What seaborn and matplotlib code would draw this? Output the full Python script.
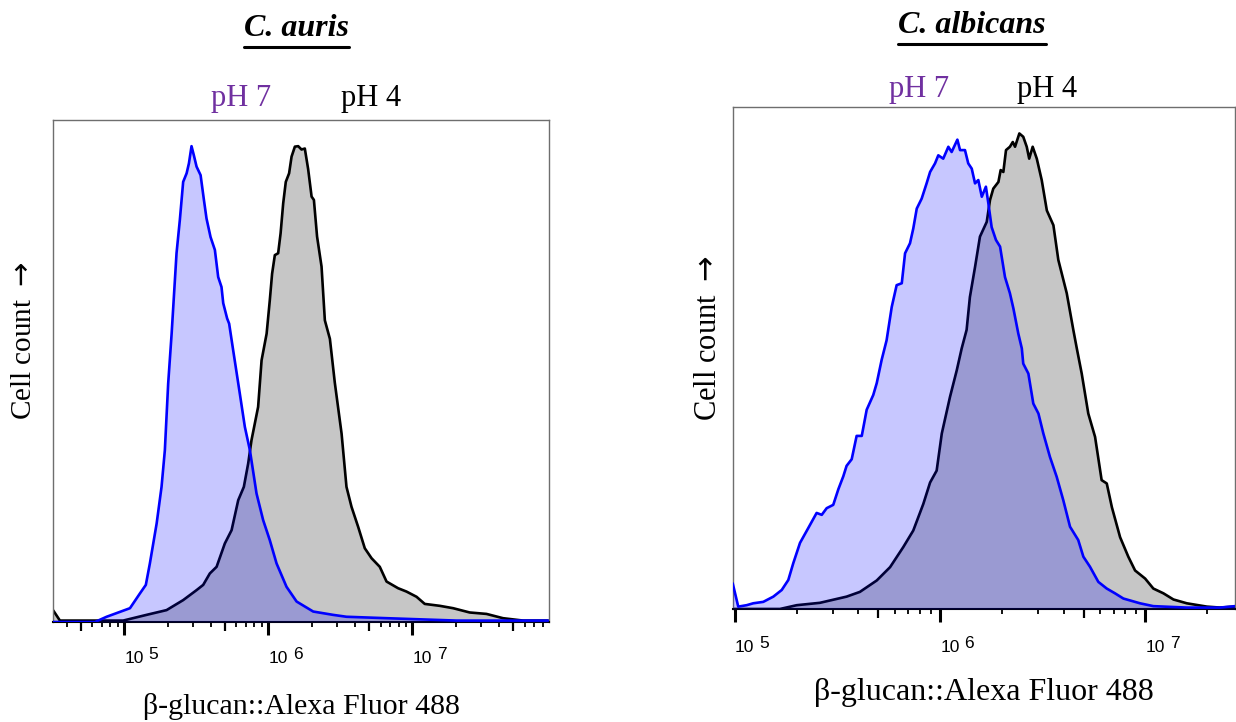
import math
import matplotlib
matplotlib.use("Agg")
import matplotlib.pyplot as plt
import seaborn as sns
import numpy as np
from matplotlib.ticker import FixedLocator, NullFormatter
from matplotlib.lines import Line2D

# ---- Fluorescence histograms (x: log10 intensity, y: % of mode) ----
auris_ph7_log = [4.506, 4.797, 4.878, 5.040, 5.109, 5.150, 5.178, 5.225, 5.259, 5.282,
                 5.305, 5.329, 5.363, 5.386, 5.409, 5.433, 5.449, 5.467, 5.483, 5.502,
                 5.530, 5.553, 5.571, 5.599, 5.629, 5.652, 5.675, 5.687, 5.714, 5.728,
                 5.756, 5.802, 5.837, 5.872, 5.918, 5.964, 6.010, 6.057, 6.126, 6.196,
                 6.311, 6.449, 6.542, 6.820, 7.305, 7.940]
auris_ph7_pct = [0, 0, 1.1, 2.9, 6.0, 7.8, 12.3, 20.7, 28.4, 36.1,
                 50.1, 60.6, 77.5, 84.5, 92.5, 94.3, 96.4, 100, 98.1, 95.7,
                 93.9, 88.7, 84.8, 80.9, 78.2, 72.5, 70.4, 67.0, 63.8, 62.7,
                 57.1, 48.0, 41.0, 36.1, 27.0, 21.4, 17.2, 12.3, 7.4, 4.3,
                 2.2, 1.5, 1.1, 0.8, 0.3, 0.3]

auris_ph4_log = [4.506, 4.554, 4.993, 5.155, 5.294, 5.409, 5.502, 5.548, 5.594, 5.641,
                 5.698, 5.745, 5.791, 5.830, 5.860, 5.883, 5.929, 5.953, 5.988, 6.010,
                 6.026, 6.045, 6.068, 6.085, 6.103, 6.121, 6.144, 6.161, 6.184, 6.207,
                 6.230, 6.253, 6.276, 6.300, 6.316, 6.338, 6.369, 6.392, 6.427, 6.461,
                 6.508, 6.542, 6.577, 6.623, 6.669, 6.716, 6.773, 6.820, 6.900, 6.958,
                 7.028, 7.085, 7.189, 7.282, 7.397, 7.513, 7.628, 7.767, 7.940]
auris_ph4_pct = [2.5, 0.3, 0.3, 1.5, 2.5, 4.6, 6.7, 7.8, 10.2, 11.6,
                 16.5, 19.3, 25.6, 28.4, 33.3, 38.2, 45.2, 55.0, 60.6, 67.6,
                 73.2, 77.1, 77.5, 81.7, 88.0, 92.5, 94.3, 97.8, 99.9, 100,
                 99.3, 99.5, 95.2, 89.4, 88.7, 81.0, 74.7, 63.4, 59.5, 50.3,
                 39.6, 28.4, 24.2, 20.0, 15.5, 13.4, 11.6, 8.5, 7.1, 6.4,
                 5.3, 3.8, 3.4, 2.9, 2.0, 1.7, 0.8, 0.3, 0.3]

albicans_ph7_log = [4.989, 5.016, 5.057, 5.089, 5.138, 5.187, 5.228, 5.260, 5.284, 5.317,
                    5.357, 5.398, 5.423, 5.447, 5.479, 5.504, 5.528, 5.544, 5.569, 5.593,
                    5.618, 5.642, 5.674, 5.691, 5.715, 5.739, 5.764, 5.788, 5.813, 5.829,
                    5.853, 5.869, 5.886, 5.910, 5.934, 5.951, 5.975, 5.991, 6.015, 6.040,
                    6.056, 6.084, 6.097, 6.121, 6.137, 6.154, 6.170, 6.186, 6.203, 6.223,
                    6.235, 6.251, 6.272, 6.292, 6.316, 6.340, 6.357, 6.381, 6.398, 6.405,
                    6.430, 6.454, 6.479, 6.503, 6.535, 6.568, 6.600, 6.633, 6.673, 6.698,
                    6.730, 6.771, 6.812, 6.852, 6.893, 6.974, 7.039, 7.202, 7.364, 7.437]
albicans_ph7_pct = [5.4, 0.5, 0.8, 1.2, 1.5, 2.6, 4.0, 6.1, 9.6, 13.9,
                    17.0, 20.2, 19.8, 21.2, 21.9, 25.2, 27.9, 30.1, 31.5, 36.4,
                    36.4, 41.9, 45.0, 47.5, 52.4, 56.5, 63.5, 68.1, 68.5, 74.8,
                    76.9, 80.0, 84.2, 86.3, 89.5, 91.9, 93.7, 95.4, 94.7, 97.2,
                    96.1, 98.7, 96.5, 96.5, 93.7, 92.6, 89.5, 90.2, 86.7, 88.8,
                    85.3, 80.3, 77.6, 76.2, 69.8, 66.4, 63.2, 57.9, 54.8, 51.6,
                    49.5, 43.2, 41.1, 36.9, 32.0, 27.8, 22.9, 17.3, 14.5, 11.0,
                    8.9, 5.7, 4.3, 3.3, 2.2, 1.2, 0.6, 0.3, 0.3, 0.6]

albicans_ph4_log = [4.989, 5.219, 5.301, 5.414, 5.544, 5.609, 5.691, 5.756, 5.820, 5.869,
                    5.918, 5.951, 5.983, 6.008, 6.048, 6.081, 6.105, 6.129, 6.145, 6.170,
                    6.194, 6.227, 6.243, 6.259, 6.284, 6.295, 6.308, 6.321, 6.340, 6.354,
                    6.365, 6.386, 6.405, 6.422, 6.434, 6.451, 6.471, 6.495, 6.520, 6.552,
                    6.576, 6.617, 6.649, 6.666, 6.690, 6.722, 6.755, 6.787, 6.812, 6.837,
                    6.877, 6.917, 6.950, 6.999, 7.039, 7.088, 7.137, 7.202, 7.300, 7.364,
                    7.437]
albicans_ph4_pct = [0, 0, 0.8, 1.3, 2.6, 3.6, 6.0, 8.8, 13.0, 16.5,
                    22.1, 26.6, 29.1, 36.9, 44.6, 50.2, 54.8, 58.7, 65.6, 71.9,
                    78.3, 81.4, 86.0, 88.4, 89.8, 92.3, 91.9, 96.5, 97.2, 98.2,
                    97.2, 100, 99.3, 97.2, 94.7, 97.2, 94.7, 90.2, 83.8, 80.7,
                    73.4, 66.4, 58.7, 54.8, 49.5, 41.1, 36.2, 27.1, 26.4, 21.4,
                    15.1, 11.0, 8.1, 6.4, 4.3, 3.3, 2.0, 1.2, 0.5, 0.3,
                    0.5]

titles = ["C. auris", "C. albicans"]
condition_labels = ["pH 7", "pH 4"]
x_label = "β-glucan::Alexa Fluor 488"
y_label = "Cell count $\\rightarrow$"

# ---- style ----
sns.set_style("white")
SERIF = ["Liberation Serif", "DejaVu Serif"]
SANS = ["Liberation Sans", "DejaVu Sans"]
plt.rcParams["font.family"] = SERIF
plt.rcParams["text.color"] = "black"
plt.rcParams["axes.labelcolor"] = "black"
plt.rcParams["xtick.color"] = "black"
plt.rcParams["mathtext.fontset"] = "dejavusans"

PH7_LINE = "#0000FF"
PH7_FILL = (0.0, 0.0, 1.0, 0.22)
PH4_LINE = "#000000"
PH4_FILL = "#C6C6C6"
PURPLE = "#7030A0"
FRAME = "#6E6E6E"

W, H = 1236, 722
fig = plt.figure(figsize=(W / 100, H / 100), dpi=100)


def px_rect(x0, y_top, x1, y_bot):
    return [x0 / W, 1 - y_bot / H, (x1 - x0) / W, (y_bot - y_top) / H]


panels = [
    dict(title=titles[0], x7=auris_ph7_log, y7=auris_ph7_pct,
         x4=auris_ph4_log, y4=auris_ph4_pct,
         rect=px_rect(53, 120, 549, 622), xlim=(4.506, 7.947), pad=11.5,
         title_xy=(296, 36), ph_y=106, ph_x=(241.5, 371),
         xlab_y=-0.168, xlab_size=21.5, ylab_xy=(-0.058, 0.56), lab_size=21),
    dict(title=titles[1], x7=albicans_ph7_log, y7=albicans_ph7_pct,
         x4=albicans_ph4_log, y4=albicans_ph4_pct,
         rect=px_rect(732.7, 107.3, 1235, 609), xlim=(4.989, 7.437), pad=13.0,
         title_xy=(972, 33), ph_y=97, ph_x=(919, 1047.5),
         xlab_y=-0.166, xlab_size=23, ylab_xy=(-0.049, 0.54), lab_size=22),
]

MAJ_LEN = 9.4
title_artists = []
for p in panels:
    ax = fig.add_axes(p["rect"])
    x7 = np.power(10.0, p["x7"])
    x4 = np.power(10.0, p["x4"])

    # pH 4: grey filled histogram with black outline
    ax.fill_between(x4, p["y4"], 0, color=PH4_FILL, lw=0, zorder=1)
    sns.lineplot(x=x4, y=p["y4"], ax=ax, color=PH4_LINE, lw=1.9, zorder=2)
    # pH 7: translucent blue overlay with blue outline
    ax.fill_between(x7, p["y7"], 0, color=PH7_FILL, lw=0, zorder=3)
    sns.lineplot(x=x7, y=p["y7"], ax=ax, color=PH7_LINE, lw=1.9, zorder=4)

    lo, hi = p["xlim"]
    ax.set_xscale("log")
    ax.set_xlim(10 ** lo, 10 ** hi)
    ax.set_ylim(0, 105.5)
    ax.set_yticks([])

    kmin, kmax = math.floor(lo), math.ceil(hi)
    majors = [10.0 ** k for k in range(kmin, kmax + 1) if lo <= k <= hi + 1e-9]
    minors = [m * 10.0 ** k for k in range(kmin, kmax) for m in (2, 3, 4, 6, 7, 8, 9)
              if lo <= math.log10(m * 10.0 ** k) <= hi]
    mids = [5 * 10.0 ** k for k in range(kmin, kmax) if lo <= math.log10(5 * 10.0 ** k) <= hi]

    ax.set_xticks(majors, labels=["10"] * len(majors))
    ax.xaxis.set_minor_locator(FixedLocator(minors))
    ax.xaxis.set_minor_formatter(NullFormatter())
    ax.tick_params(axis="x", which="major", bottom=True, length=MAJ_LEN, width=2.2,
                   color="black", direction="out", pad=p["pad"], labelsize=12.5,
                   labelcolor="black")
    ax.tick_params(axis="x", which="minor", bottom=True, length=3.3, width=1.3,
                   color="black", direction="out")
    for lab in ax.get_xticklabels():
        lab.set_ha("left")
        lab.set_family(SANS)

    sec = ax.secondary_xaxis("bottom")
    sec.set_xticks(mids)
    sec.set_xticklabels([])
    sec.tick_params(axis="x", which="major", bottom=True, length=6.5, width=1.6,
                    color="black", direction="out")
    sec.tick_params(axis="x", which="minor", bottom=False, length=0)
    sec.spines["bottom"].set_visible(False)

    # decade exponents next to each "10"
    for m in majors:
        ax.annotate(str(int(round(math.log10(m)))), xy=(m, 0),
                    xycoords=ax.get_xaxis_transform(),
                    xytext=(17.5, -(MAJ_LEN + p["pad"]) + 3.2), textcoords="offset points",
                    ha="left", va="top", fontsize=12.5, family=SANS, color="black")

    for side in ("left", "top", "right"):
        ax.spines[side].set_color(FRAME)
        ax.spines[side].set_linewidth(1.0)
    ax.spines["bottom"].set_color("black")
    ax.spines["bottom"].set_linewidth(1.5)

    ax.set_xlabel(x_label, fontsize=p["xlab_size"])
    ax.xaxis.label.set_va("center")
    ax.xaxis.set_label_coords(0.5, p["xlab_y"])
    ax.set_ylabel(y_label, fontsize=p["lab_size"])
    ax.yaxis.label.set_va("center")
    ax.yaxis.set_label_coords(*p["ylab_xy"])

    tx, ty = p["title_xy"]
    t = fig.text(tx / W, 1 - ty / H, p["title"], ha="center", va="baseline",
                 fontsize=23, fontweight="bold", style="italic")
    title_artists.append(t)

    ph_y = 1 - p["ph_y"] / H
    fig.text(p["ph_x"][0] / W, ph_y, condition_labels[0], ha="center", va="baseline",
             fontsize=22, color=PURPLE)
    fig.text(p["ph_x"][1] / W, ph_y, condition_labels[1], ha="center", va="baseline",
             fontsize=22, color="black")

# underline the species names
fig.canvas.draw()
renderer = fig.canvas.get_renderer()
for t in title_artists:
    bb = t.get_window_extent(renderer)
    y = bb.y0 - 4
    fig.add_artist(Line2D([bb.x0 / W, bb.x1 / W], [y / H, y / H],
                          transform=fig.transFigure, color="black", lw=2.2))

fig.savefig("out.png", dpi=100)
